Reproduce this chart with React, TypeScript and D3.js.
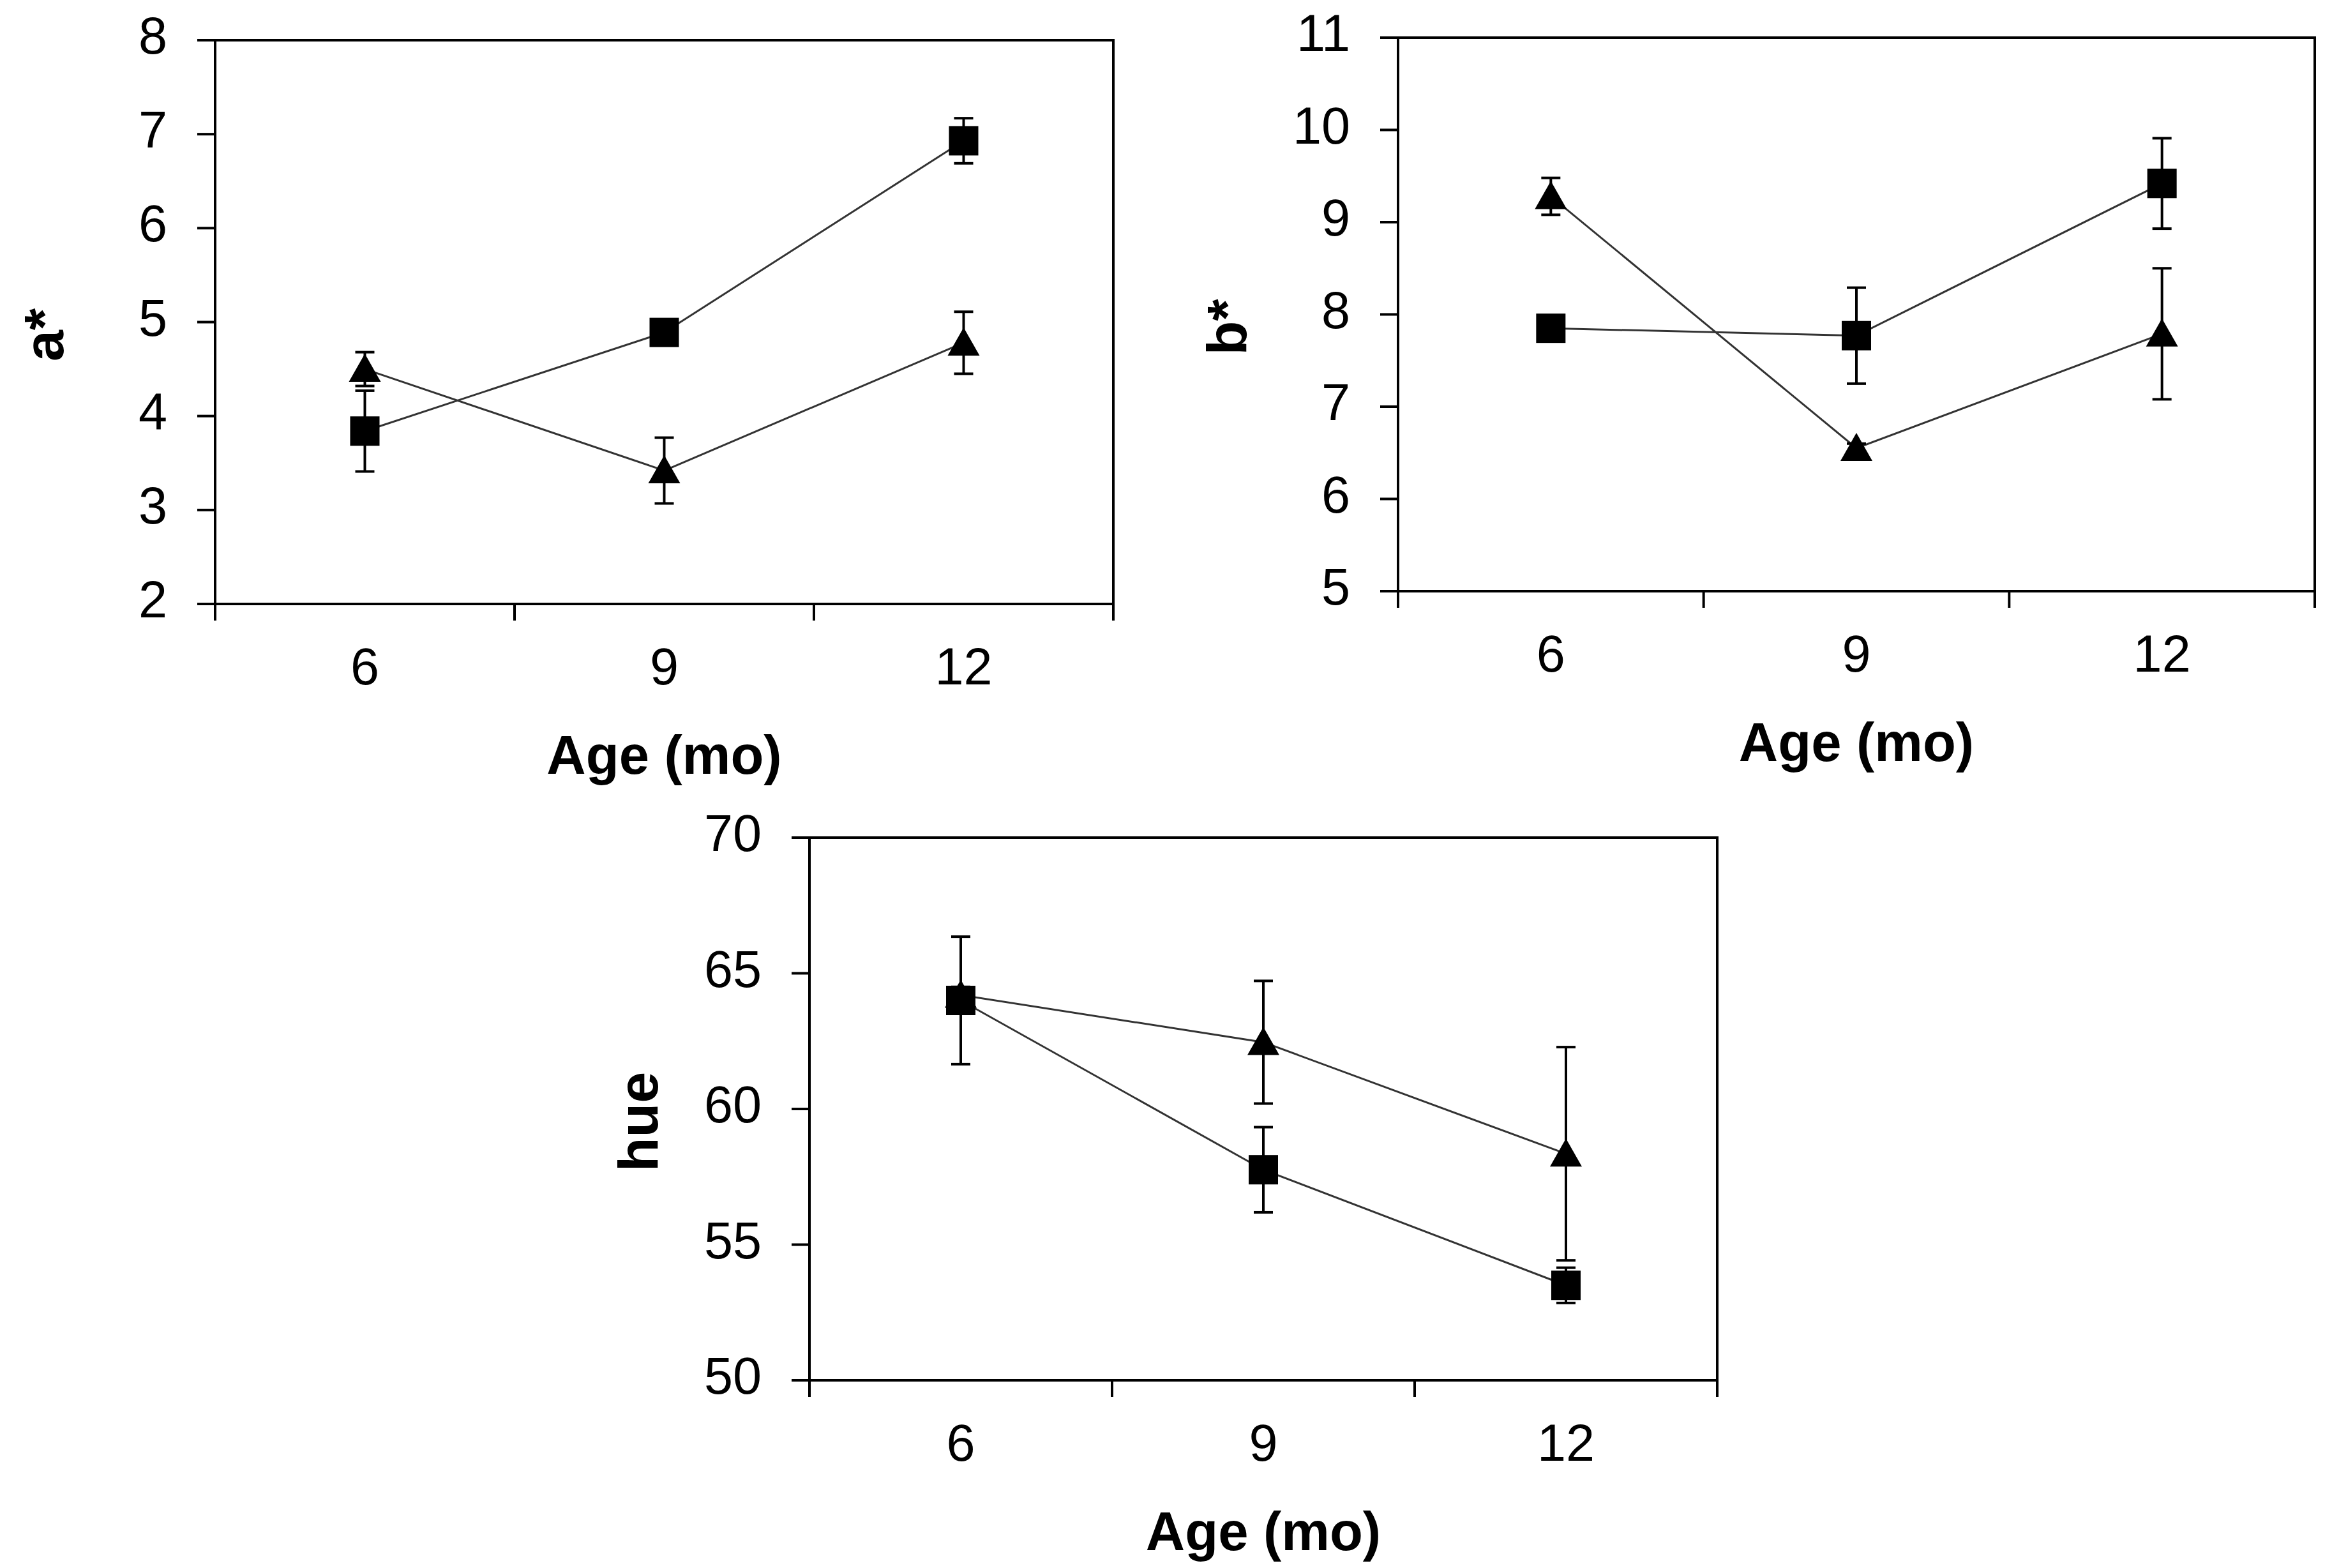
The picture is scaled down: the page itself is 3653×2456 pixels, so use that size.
import * as d3 from "d3";

// ages on the category axis
const AGES = ["6", "9", "12"];

// a* panel
const A_SQUARE = [3.84, 4.89, 6.93];
const A_SQUARE_ERR = [0.43, 0.08, 0.24];
const A_TRIANGLE = [4.5, 3.42, 4.78];
const A_TRIANGLE_ERR = [0.18, 0.35, 0.33];
const A_TICKS = [2, 3, 4, 5, 6, 7, 8];

// b* panel
const B_SQUARE = [7.85, 7.77, 9.42];
const B_SQUARE_ERR = [0.05, 0.52, 0.49];
const B_TRIANGLE = [9.28, 6.55, 7.79];
const B_TRIANGLE_ERR = [0.2, 0.05, 0.71];
const B_TICKS = [5, 6, 7, 8, 9, 10, 11];

// hue panel
const H_SQUARE = [64.0, 57.76, 53.5];
const H_SQUARE_ERR = [2.35, 1.57, 0.65];
const H_TRIANGLE = [64.2, 62.46, 58.35];
const H_TRIANGLE_ERR = [0.3, 2.26, 3.93];
const H_TICKS = [50, 55, 60, 65, 70];

const FONT = "'Liberation Sans', Arial, Helvetica, sans-serif";

type PanelProps = {
  x: number; y: number; w: number; h: number;
  ticks: number[]; title: string;
  sq: number[]; sqErr: number[]; tri: number[]; triErr: number[];
};

function Panel({ x, y, w, h, ticks, title, sq, sqErr, tri, triErr }: PanelProps) {
  const xS = d3.scaleBand<string>().domain(AGES).range([0, w]).padding(0);
  const yS = d3.scaleLinear().domain(d3.extent(ticks) as [number, number]).range([h, 0]);
  const cx = (a: string) => (xS(a) ?? 0) + xS.bandwidth() / 2;
  const line = d3.line<number>().x((_, i) => cx(AGES[i])).y(v => yS(v));
  const bounds = [...AGES.map(a => xS(a) ?? 0), w];

  const errBars = (vals: number[], errs: number[]) =>
    vals.map((v, i) => {
      const px = cx(AGES[i]);
      const y1 = yS(v + errs[i]), y2 = yS(v - errs[i]);
      return (
        <g key={i} stroke="#000" strokeWidth={4}>
          <line x1={px} x2={px} y1={y1} y2={y2} />
          <line x1={px - 15} x2={px + 15} y1={y1} y2={y1} />
          <line x1={px - 15} x2={px + 15} y1={y2} y2={y2} />
        </g>
      );
    });

  return (
    <g transform={`translate(${x},${y})`} fontFamily={FONT}>
      <rect width={w} height={h} fill="white" stroke="#000" strokeWidth={4} />
      {ticks.map(t => (
        <g key={t}>
          <line x1={-28} x2={0} y1={yS(t)} y2={yS(t)} stroke="#000" strokeWidth={4} />
          <text x={-75} y={yS(t) + 21} textAnchor="end" fontSize={81}>{t}</text>
        </g>
      ))}
      {bounds.map((b, i) => (
        <line key={i} x1={b} x2={b} y1={h} y2={h + 26} stroke="#000" strokeWidth={4} />
      ))}
      {AGES.map(a => (
        <text key={a} x={cx(a)} y={h + 126} textAnchor="middle" fontSize={81}>{a}</text>
      ))}
      <text x={w / 2} y={h + 266} textAnchor="middle" fontSize={85} fontWeight="bold">Age (mo)</text>
      <text transform={`translate(-238,${h / 2 + 20}) rotate(-90)`} textAnchor="middle" fontSize={88} fontWeight="bold">{title}</text>

      <path d={line(sq) ?? ""} fill="none" stroke="#333" strokeWidth={3} />
      <path d={line(tri) ?? ""} fill="none" stroke="#333" strokeWidth={3} />
      {errBars(sq, sqErr)}
      {errBars(tri, triErr)}
      {sq.map((v, i) => (
        <rect key={i} x={cx(AGES[i]) - 23} y={yS(v) - 23} width={46} height={46} fill="#000" />
      ))}
      {tri.map((v, i) => (
        <path key={i} transform={`translate(${cx(AGES[i])},${yS(v)})`} d="M0,-24L25,20L-25,20Z" fill="#000" />
      ))}
    </g>
  );
}

export default function App() {
  return (
    <svg width={3653} height={2456} style={{ position: "absolute", left: 0, top: 0, background: "white" }}>
      <rect width={3653} height={2456} fill="white" />
      <Panel x={337} y={63} w={1407} h={883} ticks={A_TICKS} title="a*"
        sq={A_SQUARE} sqErr={A_SQUARE_ERR} tri={A_TRIANGLE} triErr={A_TRIANGLE_ERR} />
      <Panel x={2190} y={59} w={1436} h={867} ticks={B_TICKS} title="b*"
        sq={B_SQUARE} sqErr={B_SQUARE_ERR} tri={B_TRIANGLE} triErr={B_TRIANGLE_ERR} />
      <Panel x={1268} y={1312} w={1422} h={850} ticks={H_TICKS} title="hue"
        sq={H_SQUARE} sqErr={H_SQUARE_ERR} tri={H_TRIANGLE} triErr={H_TRIANGLE_ERR} />
    </svg>
  );
}
